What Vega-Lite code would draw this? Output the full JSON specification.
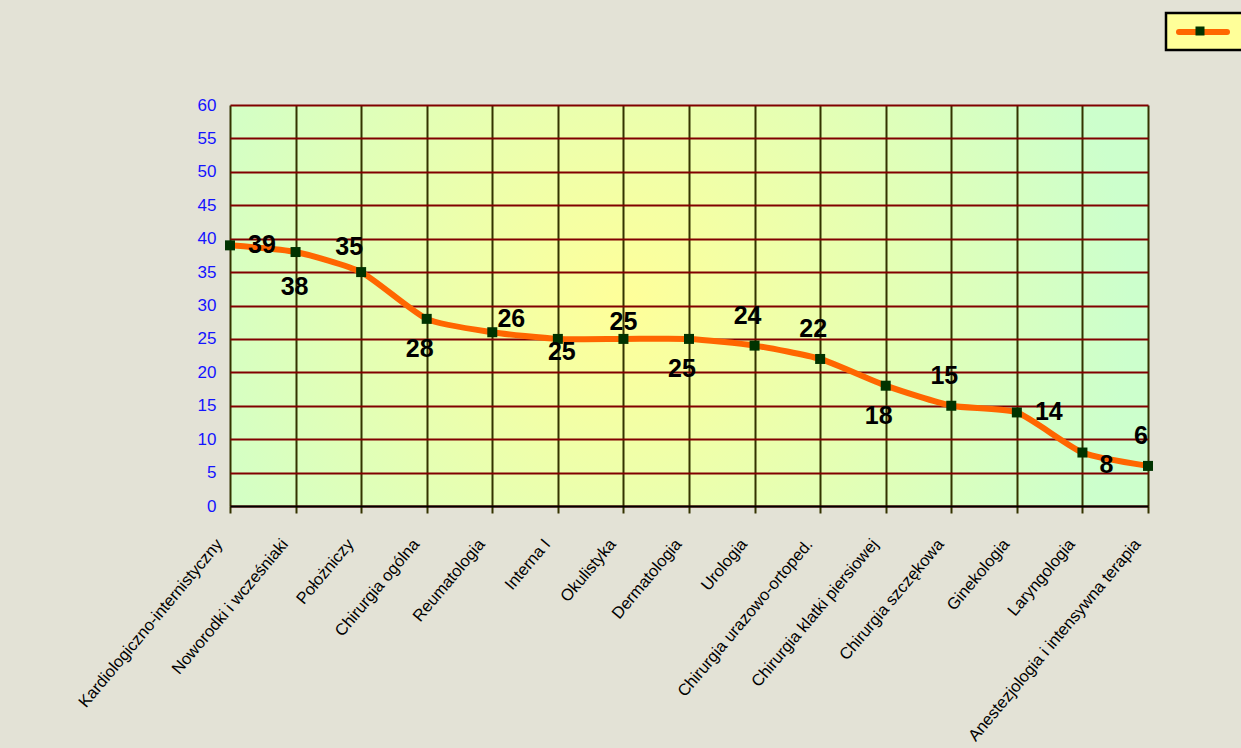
{
  "$schema": "https://vega.github.io/schema/vega-lite/v6.json",
  "autosize": {"type": "none"},
  "padding": {"left": 230, "top": 105, "right": 93, "bottom": 242},
  "width": 918,
  "height": 401,
  "background": "#E3E2D6",
  "config": {
    "view": {
      "stroke": null,
      "fill": {
        "gradient": "radial",
        "x1": 0.43, "y1": 0.5, "r1": 0,
        "x2": 0.43, "y2": 0.5, "r2": 0.55,
        "stops": [
          {"offset": 0, "color": "#FFFF99"},
          {"offset": 1, "color": "#CCFFCC"}
        ]
      }
    },
    "font": "Liberation Sans"
  },
  "data": {
    "values": [
      {"oddzial": "Kardiologiczno-internistyczny", "wartosc": 39},
      {"oddzial": "Noworodki i wcześniaki", "wartosc": 38},
      {"oddzial": "Położniczy", "wartosc": 35},
      {"oddzial": "Chirurgia ogólna", "wartosc": 28},
      {"oddzial": "Reumatologia", "wartosc": 26},
      {"oddzial": "Interna I", "wartosc": 25},
      {"oddzial": "Okulistyka", "wartosc": 25},
      {"oddzial": "Dermatologia", "wartosc": 25},
      {"oddzial": "Urologia", "wartosc": 24},
      {"oddzial": "Chirurgia urazowo-ortoped.", "wartosc": 22},
      {"oddzial": "Chirurgia klatki piersiowej", "wartosc": 18},
      {"oddzial": "Chirurgia szczękowa", "wartosc": 15},
      {"oddzial": "Ginekologia", "wartosc": 14},
      {"oddzial": "Laryngologia", "wartosc": 8},
      {"oddzial": "Anestezjologia i intensywna terapia", "wartosc": 6}
    ]
  },
  "encoding": {
    "x": {
      "field": "oddzial",
      "type": "nominal",
      "sort": null,
      "scale": {"type": "point", "padding": 0},
      "axis": {
        "title": null,
        "grid": true,
        "gridColor": "#333300",
        "gridWidth": 2,
        "gridOpacity": 1,
        "domainColor": "#000000",
        "domainWidth": 2,
        "tickColor": "#333300",
        "tickWidth": 2,
        "tickSize": 7,
        "labelAngle": -50,
        "labelAlign": "right",
        "labelBaseline": "middle",
        "labelFont": "Liberation Sans",
        "labelFontSize": 16.5,
        "labelColor": "#000000",
        "labelPadding": 28,
        "labelOffset": -11,
        "labelLimit": 500,
        "labelOverlap": false
      }
    },
    "y": {
      "field": "wartosc",
      "type": "quantitative",
      "scale": {"domain": [0, 60], "nice": false},
      "axis": {
        "title": null,
        "values": [0, 5, 10, 15, 20, 25, 30, 35, 40, 45, 50, 55, 60],
        "domain": false,
        "ticks": false,
        "grid": true,
        "gridColor": "#800000",
        "gridWidth": 2,
        "gridOpacity": 1,
        "labelColor": "#1414FF",
        "labelFont": "Liberation Sans",
        "labelFontSize": 17,
        "labelPadding": 14
      }
    }
  },
  "layer": [
    {
      "mark": {"type": "line", "interpolate": "cardinal", "tension": 0.4, "strokeWidth": 6, "strokeCap": "round", "strokeJoin": "round"},
      "encoding": {
        "stroke": {
          "datum": "seria",
          "scale": {"range": ["#FF6600"]},
          "legend": {
            "orient": "none",
            "legendX": 936,
            "legendY": -92,
            "title": null,
            "labelExpr": "''",
            "labelOffset": 60,
            "padding": 6,
            "symbolType": "M-2.4,0H2.4",
            "symbolSize": 400,
            "symbolOffset": 18,
            "symbolStrokeWidth": 6,
            "strokeColor": "#000000",
            "fillColor": "#FFFF99",
            "cornerRadius": 0,
            "encode": {
              "symbols": {"update": {"strokeCap": {"value": "round"}}},
              "legend": {"update": {"strokeWidth": {"value": 2.5}}}
            }
          }
        }
      }
    },
    {
      "mark": {"type": "point", "shape": "square", "filled": true, "size": 100, "opacity": 1},
      "encoding": {
        "fill": {
          "datum": "punkt",
          "scale": {"range": ["#003300"]},
          "legend": {
            "orient": "none",
            "legendX": 965.5,
            "legendY": -78.5,
            "title": null,
            "labelExpr": "''",
            "labelFontSize": 1,
            "padding": 0,
            "symbolType": "square",
            "symbolSize": 81,
            "symbolStrokeWidth": 0,
            "symbolOpacity": 1
          }
        }
      }
    },
    {
      "transform": [{"filter": {"field": "oddzial", "oneOf": ["Urologia", "Chirurgia urazowo-ortoped.", "Chirurgia szczękowa", "Anestezjologia i intensywna terapia"]}}],
      "mark": {"type": "text", "fontSize": 25, "fontWeight": "bold", "color": "#000000", "align": "center", "baseline": "middle", "dx": -7, "dy": -30},
      "encoding": {"text": {"field": "wartosc", "type": "quantitative"}}
    },
    {
      "transform": [{"filter": {"field": "oddzial", "oneOf": ["Położniczy"]}}],
      "mark": {"type": "text", "fontSize": 25, "fontWeight": "bold", "color": "#000000", "align": "center", "baseline": "middle", "dx": -12, "dy": -25},
      "encoding": {"text": {"field": "wartosc", "type": "quantitative"}}
    },
    {
      "transform": [{"filter": {"field": "oddzial", "oneOf": ["Okulistyka"]}}],
      "mark": {"type": "text", "fontSize": 25, "fontWeight": "bold", "color": "#000000", "align": "center", "baseline": "middle", "dx": 0, "dy": -17},
      "encoding": {"text": {"field": "wartosc", "type": "quantitative"}}
    },
    {
      "transform": [{"filter": {"field": "oddzial", "oneOf": ["Chirurgia ogólna", "Dermatologia", "Chirurgia klatki piersiowej"]}}],
      "mark": {"type": "text", "fontSize": 25, "fontWeight": "bold", "color": "#000000", "align": "center", "baseline": "middle", "dx": -7, "dy": 30},
      "encoding": {"text": {"field": "wartosc", "type": "quantitative"}}
    },
    {
      "transform": [{"filter": {"field": "oddzial", "oneOf": ["Noworodki i wcześniaki"]}}],
      "mark": {"type": "text", "fontSize": 25, "fontWeight": "bold", "color": "#000000", "align": "center", "baseline": "middle", "dx": -1, "dy": 35},
      "encoding": {"text": {"field": "wartosc", "type": "quantitative"}}
    },
    {
      "transform": [{"filter": {"field": "oddzial", "oneOf": ["Kardiologiczno-internistyczny", "Ginekologia"]}}],
      "mark": {"type": "text", "fontSize": 25, "fontWeight": "bold", "color": "#000000", "align": "center", "baseline": "middle", "dx": 32, "dy": 0},
      "encoding": {"text": {"field": "wartosc", "type": "quantitative"}}
    },
    {
      "transform": [{"filter": {"field": "oddzial", "oneOf": ["Reumatologia"]}}],
      "mark": {"type": "text", "fontSize": 25, "fontWeight": "bold", "color": "#000000", "align": "center", "baseline": "middle", "dx": 19, "dy": -13},
      "encoding": {"text": {"field": "wartosc", "type": "quantitative"}}
    },
    {
      "transform": [{"filter": {"field": "oddzial", "oneOf": ["Laryngologia"]}}],
      "mark": {"type": "text", "fontSize": 25, "fontWeight": "bold", "color": "#000000", "align": "center", "baseline": "middle", "dx": 24, "dy": 12},
      "encoding": {"text": {"field": "wartosc", "type": "quantitative"}}
    },
    {
      "transform": [{"filter": {"field": "oddzial", "oneOf": ["Interna I"]}}],
      "mark": {"type": "text", "fontSize": 25, "fontWeight": "bold", "color": "#000000", "align": "center", "baseline": "middle", "dx": 4, "dy": 13},
      "encoding": {"text": {"field": "wartosc", "type": "quantitative"}}
    }
  ]
}
